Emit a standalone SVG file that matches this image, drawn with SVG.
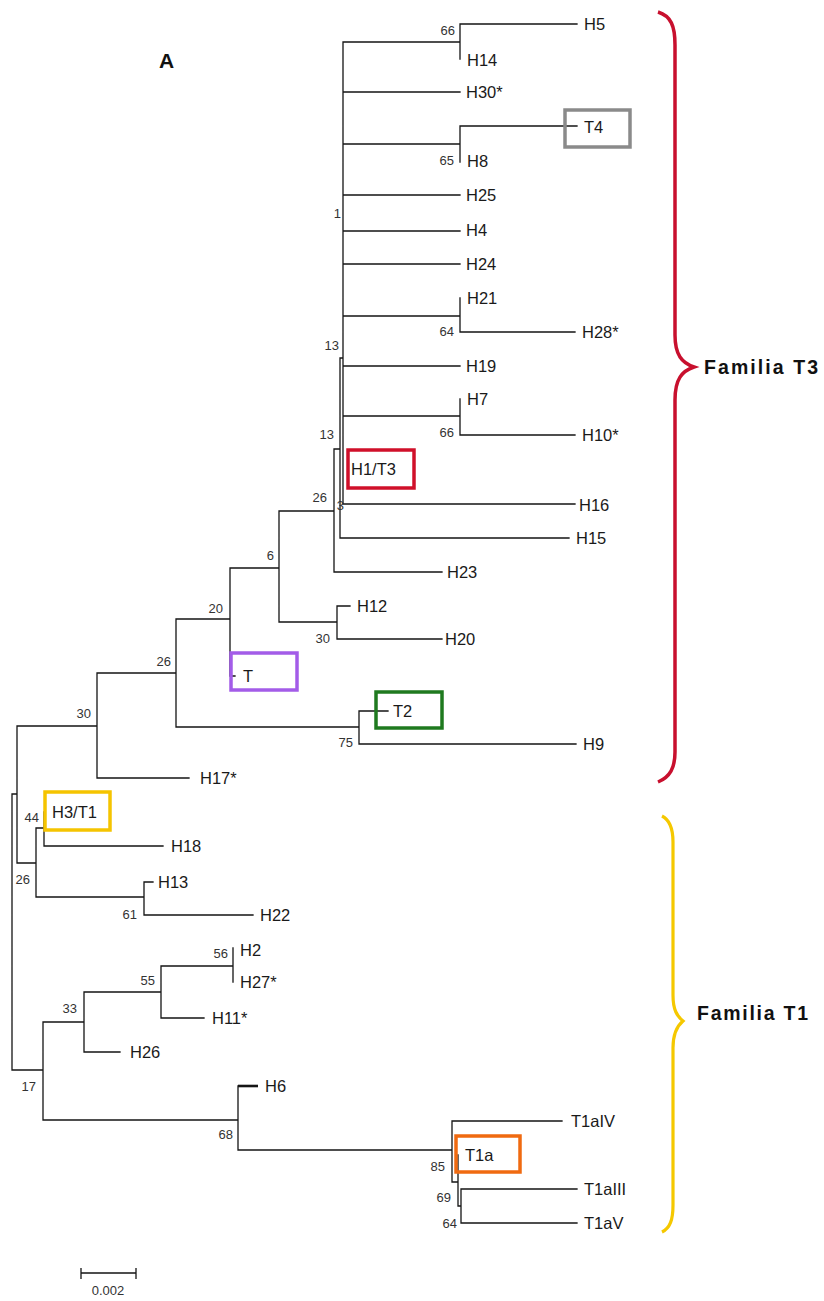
<svg xmlns="http://www.w3.org/2000/svg" width="824" height="1301" viewBox="0 0 824 1301">
<style>
.br{fill:none;stroke:#151515;stroke-width:1.3;stroke-linecap:square}
.tx{font-family:"Liberation Sans",Arial,sans-serif;font-size:16.5px;fill:#1a1a1a}
.bs{font-family:"Liberation Sans",Arial,sans-serif;font-size:13px;fill:#333;text-anchor:end}
.box{fill:none;stroke-width:3.5}
.fam{font-family:"Liberation Sans",Arial,sans-serif;font-size:19.5px;font-weight:bold;fill:#111}
</style>
<rect width="824" height="1301" fill="#ffffff"/>
<text x="159" y="68" font-family="Liberation Sans, Arial, sans-serif" font-size="21" font-weight="bold" fill="#111">A</text>

<g id="connectors">
<path class="br" d="M343,42V504 M343,42H460 M460,24V59 M460,24H577 M343,92H460 M343,144H460 M460,126V162 M460,126H577 M343,195H460 M343,231H460 M343,264H460 M343,316H460 M460,298V332 M460,332H575 M343,366H460 M343,416H460 M460,399V435 M460,435H575 M343,504H575 M340,358V538 M340,358H343 M340,538H569 M334,449V572 M334,449H340 M334,572H442 M279,511H334 M279,511V622 M279,622H337 M337,606V639 M337,606H350 M337,639H442 M230,568H279 M230,568V676 M230,676H235 M176,619H230 M176,619V727 M176,727H359 M359,711V744 M359,711H388 M359,744H576 M97,673H176 M97,673V778 M97,778H189 M17,726H97 M17,726V863 M12,794H17 M12,794V1070 M17,863H36 M36,828V897 M36,828H44 M44,812V846 M44,846H163 M36,897H144 M144,882V915 M144,882H153 M144,915H253 M12,1070H43 M43,1022V1120 M43,1022H84 M84,992V1052 M84,1052H120 M84,992H161 M161,966V1018 M161,1018H204 M161,966H233 M233,948V982 M43,1120H238 M238,1086V1150 M238,1150H452 M452,1121V1182 M452,1121H562 M452,1182H458 M458,1155V1206 M458,1206H461 M461,1189V1223 M461,1189H577 M461,1223H577"/>
<path d="M238,1086H258" stroke="#151515" stroke-width="2.6" fill="none"/>
</g>

<g id="bootstrap">
<text class="bs" x="455" y="35">66</text>
<text class="bs" x="454" y="165">65</text>
<text class="bs" x="341" y="218">1</text>
<text class="bs" x="454" y="336">64</text>
<text class="bs" x="339" y="350">13</text>
<text class="bs" x="454" y="437">66</text>
<text class="bs" x="334" y="439">13</text>
<text class="bs" x="327" y="502">26</text>
<text class="bs" x="344" y="510">3</text>
<text class="bs" x="274" y="560">6</text>
<text class="bs" x="330" y="643">30</text>
<text class="bs" x="223" y="613">20</text>
<text class="bs" x="171" y="666">26</text>
<text class="bs" x="353" y="747">75</text>
<text class="bs" x="91" y="718">30</text>
<text class="bs" x="39" y="822">44</text>
<text class="bs" x="30" y="884">26</text>
<text class="bs" x="137" y="919">61</text>
<text class="bs" x="228" y="958">56</text>
<text class="bs" x="155" y="985">55</text>
<text class="bs" x="77" y="1013">33</text>
<text class="bs" x="36" y="1091">17</text>
<text class="bs" x="233" y="1139">68</text>
<text class="bs" x="445" y="1171">85</text>
<text class="bs" x="451" y="1202">69</text>
<text class="bs" x="457" y="1228">64</text>
</g>

<g id="n-H5"><text class="tx" x="584" y="30">H5</text></g>
<g id="n-H14"><text class="tx" x="467" y="66">H14</text></g>
<g id="n-H30"><text class="tx" x="466" y="98">H30*</text></g>
<g id="n-T4"><rect class="box" x="565" y="110" width="65" height="37" stroke="#8a8a8a"/><text class="tx" x="584" y="133">T4</text></g>
<g id="n-H8"><text class="tx" x="467" y="167">H8</text></g>
<g id="n-H25"><text class="tx" x="466" y="201">H25</text></g>
<g id="n-H4"><text class="tx" x="466" y="236">H4</text></g>
<g id="n-H24"><text class="tx" x="466" y="270">H24</text></g>
<g id="n-H21"><text class="tx" x="467" y="304">H21</text></g>
<g id="n-H28"><text class="tx" x="582" y="338">H28*</text></g>
<g id="n-H19"><text class="tx" x="466" y="372">H19</text></g>
<g id="n-H7"><text class="tx" x="467" y="405">H7</text></g>
<g id="n-H10"><text class="tx" x="582" y="441">H10*</text></g>
<g id="n-H1T3"><rect class="box" x="348" y="450" width="66" height="38" stroke="#d0102a"/><text class="tx" x="351" y="475">H1/T3</text></g>
<g id="n-H16"><text class="tx" x="579" y="511">H16</text></g>
<g id="n-H15"><text class="tx" x="576" y="544">H15</text></g>
<g id="n-H23"><text class="tx" x="447" y="578">H23</text></g>
<g id="n-H12"><text class="tx" x="357" y="612">H12</text></g>
<g id="n-H20"><text class="tx" x="445" y="645">H20</text></g>
<g id="n-T"><rect class="box" x="231" y="653" width="66" height="37" stroke="#a35ce8"/><text class="tx" x="243" y="682">T</text></g>
<g id="n-T2"><rect class="box" x="376" y="692" width="66" height="36" stroke="#1f7a1f"/><text class="tx" x="393" y="717">T2</text></g>
<g id="n-H9"><text class="tx" x="583" y="750">H9</text></g>
<g id="n-H17"><text class="tx" x="200" y="784">H17*</text></g>
<g id="n-H3T1"><rect class="box" x="45" y="792" width="65" height="38" stroke="#f5c400"/><text class="tx" x="52" y="818">H3/T1</text></g>
<g id="n-H18"><text class="tx" x="171" y="852">H18</text></g>
<g id="n-H13"><text class="tx" x="158" y="888">H13</text></g>
<g id="n-H22"><text class="tx" x="260" y="921">H22</text></g>
<g id="n-H2"><text class="tx" x="240" y="956">H2</text></g>
<g id="n-H27"><text class="tx" x="240" y="988">H27*</text></g>
<g id="n-H11"><text class="tx" x="212" y="1024">H11*</text></g>
<g id="n-H26"><text class="tx" x="130" y="1058">H26</text></g>
<g id="n-H6"><text class="tx" x="265" y="1092">H6</text></g>
<g id="n-T1aIV"><text class="tx" x="571" y="1127">T1aIV</text></g>
<g id="n-T1a"><rect class="box" x="456" y="1136" width="64" height="36" stroke="#f06a10"/><text class="tx" x="465" y="1161">T1a</text></g>
<g id="n-T1aIII"><text class="tx" x="584" y="1195">T1aIII</text></g>
<g id="n-T1aV"><text class="tx" x="584" y="1229">T1aV</text></g>

<g id="familia-T3">
<path d="M658,12 C671,16 675,26 675,45 L675,335 C675,355 682,363 694,367 C682,371 675,379 675,400 L675,752 C675,768 670,777 658,782" fill="none" stroke="#c8102e" stroke-width="3.5"/>
<text class="fam" x="704" y="374" textLength="114" lengthAdjust="spacing">Familia T3</text>
</g>
<g id="familia-T1">
<path d="M662,816 C670,820 673,828 673,842 L673,995 C673,1010 677,1016 683,1021 C677,1026 673,1033 673,1048 L673,1205 C673,1220 670,1228 662,1232" fill="none" stroke="#f5c800" stroke-width="3.2"/>
<text class="fam" x="697" y="1020" textLength="111" lengthAdjust="spacing">Familia T1</text>
</g>

<g id="scale">
<path d="M81,1273H136 M81,1268V1279 M136,1268V1279" stroke="#151515" stroke-width="1.3" fill="none"/>
<text x="108" y="1295" font-family="Liberation Sans, Arial, sans-serif" font-size="13" fill="#333" text-anchor="middle">0.002</text>
</g>
</svg>
